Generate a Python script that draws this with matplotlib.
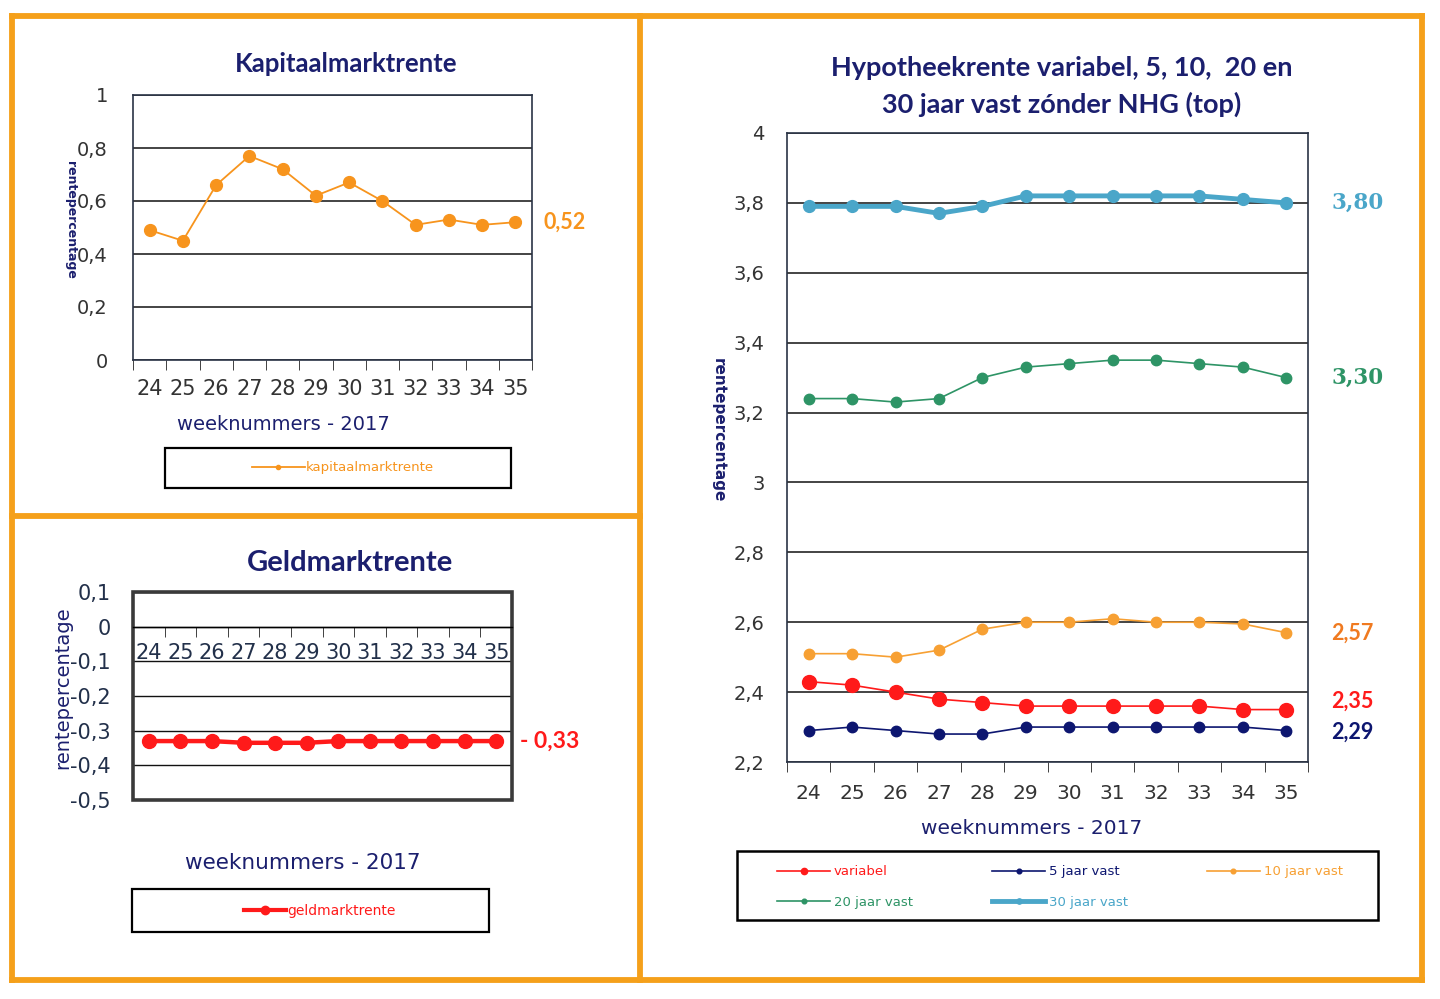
import numpy as np
import matplotlib
matplotlib.use("Agg")
import matplotlib.pyplot as plt
from matplotlib.patches import Rectangle
from matplotlib.lines import Line2D
from matplotlib.ticker import FuncFormatter, FixedLocator

# weeknummers 2017
weeks = ["24", "25", "26", "27", "28", "29", "30", "31", "32", "33", "34", "35"]

kapitaalmarkt = [0.49, 0.45, 0.66, 0.77, 0.72, 0.62, 0.67, 0.60, 0.51, 0.53, 0.51, 0.52]
geldmarkt = [-0.33, -0.33, -0.33, -0.335, -0.335, -0.335, -0.33, -0.33, -0.33, -0.33, -0.33, -0.33]

variabel = [2.43, 2.42, 2.40, 2.38, 2.37, 2.36, 2.36, 2.36, 2.36, 2.36, 2.35, 2.35]
vast5 = [2.29, 2.30, 2.29, 2.28, 2.28, 2.30, 2.30, 2.30, 2.30, 2.30, 2.30, 2.29]
vast10 = [2.51, 2.51, 2.50, 2.52, 2.58, 2.60, 2.60, 2.61, 2.60, 2.60, 2.595, 2.57]
vast20 = [3.24, 3.24, 3.23, 3.24, 3.30, 3.33, 3.34, 3.35, 3.35, 3.34, 3.33, 3.30]
vast30 = [3.79, 3.79, 3.79, 3.77, 3.79, 3.82, 3.82, 3.82, 3.82, 3.82, 3.81, 3.80]

NAVY = "#1b1f6e"
ORANGE = "#f7941d"
RED = "#ff1a1a"
TEAL = "#4aa6c9"
GREEN = "#2e9466"
DNAVY = "#0d1670"
FRAME = "#f5a01a"

W, H = 1440, 999
fig = plt.figure(figsize=(14.4, 9.99), dpi=100)
fig.patch.set_facecolor("white")


def box(x0, y0, x1, y1):
    # pixel box -> figure fraction [left, bottom, width, height]
    return [x0 / W, 1 - y1 / H, (x1 - x0) / W, (y1 - y0) / H]


def px(x, y):
    return x / W, 1 - y / H


def comma(v, pos):
    v = round(v, 3)
    if abs(v) < 1e-9:
        return "0"
    s = f"{v:.1f}".rstrip("0").rstrip(".")
    return s.replace(".", ",")


def category_axis(ax, labelsize, color, pad):
    x = np.arange(len(weeks))
    ax.set_xlim(-0.5, len(weeks) - 0.5)
    ax.set_xticks(x)
    ax.set_xticklabels(weeks)
    ax.xaxis.set_minor_locator(FixedLocator(np.arange(-0.5, len(weeks), 1)))
    ax.tick_params(axis="x", which="major", length=0, labelsize=labelsize,
                   labelcolor=color, pad=pad)
    ax.tick_params(axis="x", which="minor", length=7, direction="out", color="#222222")
    return x


# orange panel borders
for x0, y0, x1, y1 in [(12, 16, 1422, 16), (12, 980, 1422, 980), (12, 16, 12, 980),
                       (1422, 16, 1422, 980), (640, 16, 640, 980), (12, 516, 640, 516)]:
    fig.add_artist(Line2D([x0 / W, x1 / W], [1 - y0 / H, 1 - y1 / H], color=FRAME, lw=4.2))

# ---------- Kapitaalmarktrente ----------
ax1 = fig.add_axes(box(133, 95, 532, 360))
x = category_axis(ax1, 15, "#333333", 14)
ax1.plot(x, kapitaalmarkt, color=ORANGE, lw=1.3, marker="o", ms=8.5)
ax1.set_ylim(0, 1)
ax1.set_yticks(np.arange(0, 1.01, 0.2))
ax1.yaxis.set_major_formatter(FuncFormatter(comma))
ax1.tick_params(axis="y", length=0, labelsize=14, labelcolor="#333333", pad=18)
ax1.grid(axis="y", color="#111111", lw=1.1)
ax1.set_axisbelow(True)
for s in ax1.spines.values():
    s.set_color("#2a3345")
    s.set_linewidth(1.2)
fig.text(*px(346, 64), "Kapitaalmarktrente", fontsize=18.5, fontweight="bold", color=NAVY,
         family="Lato", ha="center", va="center")
ax1.text(1.03, kapitaalmarkt[-1], "0,52", transform=ax1.get_yaxis_transform(),
         color=ORANGE, fontsize=15.5, fontweight="bold", va="center", family="Lato")
fig.text(*px(283, 424), "weeknummers - 2017", ha="center", va="center",
         fontsize=14, color=NAVY)
fig.text(*px(70, 220), "rentepercentage", rotation=270, ha="center", va="center",
         fontsize=9, color=NAVY, fontweight="bold")
fig.add_artist(Rectangle(px(165, 488), 346 / W, 40 / H, fill=False,
                         edgecolor="black", lw=1.6, transform=fig.transFigure))
fig.legend([Line2D([], [], color=ORANGE, lw=1.3, marker="o", ms=3)], ["kapitaalmarktrente"],
           loc="center", bbox_to_anchor=px(343, 468), frameon=False,
           fontsize=9.5, labelcolor=ORANGE, handlelength=4, handletextpad=0.1)

# ---------- Geldmarktrente ----------
ax2 = fig.add_axes(box(133, 592, 512, 800))
x = category_axis(ax2, 15, "#22304a", 12)
ax2.plot(x, geldmarkt, color=RED, lw=3.2, marker="o", ms=10)
ax2.set_ylim(-0.5, 0.1)
ax2.set_yticks(np.arange(-0.5, 0.11, 0.1))
ax2.yaxis.set_major_formatter(FuncFormatter(comma))
ax2.tick_params(axis="y", length=0, labelsize=15, labelcolor="#22304a", pad=16)
ax2.grid(axis="y", color="#111111", lw=1.0)
ax2.set_axisbelow(True)
ax2.spines["bottom"].set_position(("data", 0))
ax2.spines["bottom"].set_linewidth(1.0)
for side in ["top", "left", "right"]:
    ax2.spines[side].set_visible(False)
ax2.add_patch(Rectangle((0, 0), 1, 1, transform=ax2.transAxes, fill=False,
                        edgecolor="#3a3a3a", lw=2.6, clip_on=False))
fig.text(*px(350, 563), "Geldmarktrente", fontsize=21, fontweight="bold", color=NAVY,
         family="Lato", ha="center", va="center")
ax2.text(1.02, geldmarkt[-1], "- 0,33", transform=ax2.get_yaxis_transform(),
         color=RED, fontsize=16.5, fontweight="bold", va="center", family="Lato")
fig.text(*px(303, 863), "weeknummers - 2017", ha="center", va="center",
         fontsize=15.5, color=NAVY)
fig.text(*px(63, 688), "rentepercentage", rotation=90, ha="center", va="center",
         fontsize=14, color=NAVY)
fig.add_artist(Rectangle(px(132, 932), 357 / W, 43 / H, fill=False,
                         edgecolor="black", lw=1.6, transform=fig.transFigure))
fig.legend([Line2D([], [], color=RED, lw=3, marker="o", ms=6)], ["geldmarktrente"],
           loc="center", bbox_to_anchor=px(320, 911), frameon=False,
           fontsize=10, labelcolor=RED, handlelength=3, handletextpad=0.1)

# ---------- Hypotheekrente ----------
ax3 = fig.add_axes(box(787, 133, 1308, 762))
x = category_axis(ax3, 14.5, "#333333", 16)
series = [
    ("variabel", variabel, RED, 1.2, 10),
    ("5 jaar vast", vast5, DNAVY, 1.2, 7.5),
    ("10 jaar vast", vast10, "#f7a033", 1.2, 7.5),
    ("20 jaar vast", vast20, GREEN, 1.2, 7.5),
    ("30 jaar vast", vast30, TEAL, 3.5, 8.5),
]
handles = {}
for name, vals, col, lw, ms in series:
    ax3.plot(x, vals, color=col, lw=lw, marker="o", ms=ms)
    handles[name] = Line2D([], [], color=col, lw=lw, marker="o", ms=ms * 0.45)
ax3.set_ylim(2.2, 4.0)
ax3.set_yticks(np.arange(2.2, 4.01, 0.2))
ax3.yaxis.set_major_formatter(FuncFormatter(comma))
ax3.tick_params(axis="y", length=0, labelsize=14, labelcolor="#333333", pad=16)
ax3.grid(axis="y", color="#111111", lw=1.1)
ax3.set_axisbelow(True)
for s in ax3.spines.values():
    s.set_color("#2a3345")
    s.set_linewidth(1.2)
fig.text(*px(1062, 68), "Hypotheekrente variabel, 5, 10,  20 en", fontsize=19.5,
         fontweight="bold", color=NAVY, family="Lato", ha="center", va="center")
fig.text(*px(1062, 104), "30 jaar vast zónder NHG (top)", fontsize=19.5,
         fontweight="bold", color=NAVY, family="Lato", ha="center", va="center")
end_labels = [("3,80", vast30[-1], TEAL, "DejaVu Serif"),
              ("3,30", vast20[-1], GREEN, "DejaVu Serif"),
              ("2,57", 2.57, "#f07a20", "Lato"),
              ("2,35", 2.375, RED, "Lato"),
              ("2,29", vast5[-1] - 0.005, DNAVY, "Lato")]
for txt, yv, col, fam in end_labels:
    ax3.text(1.045, yv, txt, transform=ax3.get_yaxis_transform(), color=col,
             fontsize=15.5, fontweight="bold", va="center", family=fam)
fig.text(*px(1032, 828), "weeknummers - 2017", ha="center", va="center",
         fontsize=14.5, color=NAVY)
fig.text(*px(718, 430), "rentepercentage", rotation=270, ha="center", va="center",
         fontsize=11, color=NAVY, fontweight="bold")
fig.add_artist(Rectangle(px(737, 920), 641 / W, 69 / H, fill=False,
                         edgecolor="black", lw=1.8, transform=fig.transFigure))
order = ["variabel", "20 jaar vast", "5 jaar vast", "30 jaar vast", "10 jaar vast"]
leg = fig.legend([handles[n] for n in order], order, ncol=3, loc="center",
                 bbox_to_anchor=px(1060, 887), frameon=False, fontsize=9.5,
                 handlelength=4, handletextpad=0.3, columnspacing=6.0, labelspacing=1.3)
colors = {n: c for n, _, c, _, _ in series}
for t in leg.get_texts():
    t.set_color(colors[t.get_text()])

fig.savefig("out.png", dpi=100, facecolor="white")
